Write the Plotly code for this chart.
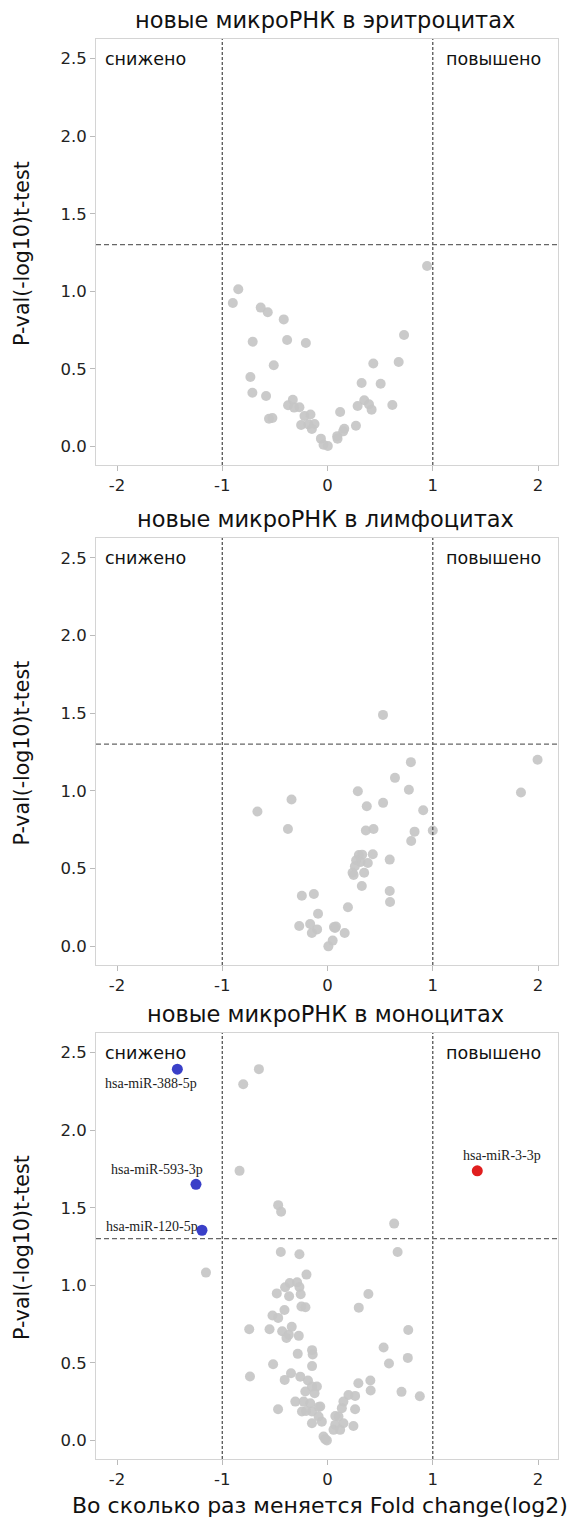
import plotly.graph_objects as go

# ---------------- data ----------------
ery_x = [-0.848, -0.90, -0.635, -0.568, -0.416, -0.711, -0.384, -0.206, -0.511, -0.733,
         -0.714, -0.584, -0.330, -0.375, -0.267, -0.317, -0.556, -0.524, -0.219, -0.162,
         -0.251, -0.181, -0.124, -0.149, -0.063, -0.038, 0.003, 0.12, 0.092, 0.946,
         0.727, 0.435, 0.676, 0.324, 0.505, 0.349, 0.394, 0.286, 0.419, 0.616,
         0.27, 0.159, 0.149, 0.095]
ery_y = [1.013, 0.925, 0.895, 0.865, 0.819, 0.675, 0.686, 0.667, 0.523, 0.447,
         0.346, 0.325, 0.301, 0.265, 0.252, 0.25, 0.178, 0.183, 0.196, 0.206,
         0.138, 0.142, 0.144, 0.112, 0.05, 0.011, 0.002, 0.222, 0.066, 1.163,
         0.718, 0.535, 0.544, 0.409, 0.404, 0.297, 0.271, 0.26, 0.237, 0.267,
         0.133, 0.114, 0.097, 0.05]

lym_x = [-0.342, -0.666, -0.376, -0.244, -0.13, -0.09, -0.269, -0.165, -0.099, -0.149,
         0.071, 0.049, 0.008, 0.527, 0.792, 1.996, 1.838, 0.641, 0.288, 0.773,
         0.373, 0.528, 0.909, 0.364, 0.437, 0.827, 1.0, 0.795, 0.298, 0.329,
         0.43, 0.272, 0.314, 0.383, 0.26, 0.591, 0.238, 0.248, 0.348, 0.326,
         0.591, 0.594, 0.194, 0.061, 0.08, 0.163]
lym_y = [0.945, 0.867, 0.755, 0.326, 0.337, 0.21, 0.131, 0.144, 0.109, 0.086,
         0.118, 0.037, 0.0, 1.489, 1.185, 1.2, 0.99, 1.084, 0.998, 1.007,
         0.901, 0.923, 0.876, 0.745, 0.755, 0.738, 0.745, 0.678, 0.588, 0.59,
         0.592, 0.554, 0.543, 0.536, 0.515, 0.558, 0.474, 0.459, 0.474, 0.388,
         0.356, 0.285, 0.251, 0.124, 0.127, 0.086]

mono_x = [-0.652, -0.801, -0.836, -0.469, -0.441, 0.633, -0.444, -0.267, 0.666, -1.155,
          -0.2, -0.359, -0.289, -0.403, -0.267, -0.482, -0.365, -0.255, 0.388, -0.248,
          -0.21, 0.297, -0.409, -0.523, -0.469, -0.744, -0.551, 0.767, -0.431, -0.34,
          -0.39, -0.368, -0.273, 0.533, -0.283, -0.147, -0.141, 0.763, 0.584, -0.517,
          -0.737, -0.147, -0.347, -0.407, -0.259, -0.186, -0.101, -0.123, -0.211, -0.148,
          0.293, 0.407, 0.41, 0.703, 0.877, -0.47, -0.306, -0.227, -0.164, -0.069,
          -0.243, -0.148, -0.085, -0.148, -0.054, 0.199, 0.262, 0.151, 0.262, 0.104,
          0.136, 0.151, 0.073, 0.057, 0.246, 0.12, -0.038, -0.006, -0.022, -0.084,
          -0.204, 0.074]
mono_y = [2.394, 2.297, 1.738, 1.517, 1.474, 1.398, 1.215, 1.2, 1.215, 1.082,
          1.069, 1.015, 1.019, 0.987, 0.989, 0.948, 0.929, 0.942, 0.944, 0.863,
          0.858, 0.856, 0.841, 0.805, 0.79, 0.717, 0.717, 0.712, 0.704, 0.732,
          0.661, 0.682, 0.674, 0.599, 0.558, 0.582, 0.554, 0.532, 0.496, 0.491,
          0.412, 0.479, 0.433, 0.39, 0.411, 0.386, 0.347, 0.304, 0.315, 0.347,
          0.368, 0.386, 0.322, 0.313, 0.285, 0.201, 0.25, 0.25, 0.24, 0.218,
          0.186, 0.186, 0.154, 0.111, 0.121, 0.293, 0.287, 0.25, 0.201, 0.154,
          0.208, 0.111, 0.1, 0.068, 0.093, 0.068, 0.025, 0.0, 0.008, 0.215,
          0.189, 0.157]

down_names = ["hsa-miR-388-5p", "hsa-miR-593-3p", "hsa-miR-120-5p"]
down_x = [-1.427, -1.25, -1.193]
down_y = [2.394, 1.651, 1.355]
down_label_x = [-1.68, -1.62, -1.67]
down_label_y = [2.30, 1.75, 1.38]

up_names = ["hsa-miR-3-3p"]
up_x = [1.423]
up_y = [1.738]
up_label_x = [1.66]
up_label_y = [1.835]

titles = ["новые микроРНК в эритроцитах", "новые микроРНК в лимфоцитах", "новые микроРНК в моноцитах"]
x_ticks = [-2, -1, 0, 1, 2]
y_ticks = [0.0, 0.5, 1.0, 1.5, 2.0, 2.5]
fc_cut = 1.0
p_cut = 1.301

# ---------------- figure ----------------
OFF = 8                      # default page body margin
W, H = 579 - OFF, 1529 - OFF
FONT = "DejaVu Sans"
GREY = "#c6c6c6"
panels = [(39, 465), (538, 965), (1033, 1459)]   # top/bottom page px of plot areas


def px_x(p):
    return (p - OFF) / W


def px_y(p):
    return 1 - (p - OFF) / H


xdom = [px_x(96), px_x(558)]

fig = go.Figure()
series = [(ery_x, ery_y), (lym_x, lym_y), (mono_x, mono_y)]
for i, (xs, ys) in enumerate(series):
    sfx = "" if i == 0 else str(i + 1)
    fig.add_trace(go.Scatter(x=xs, y=ys, mode="markers", xaxis="x" + sfx, yaxis="y" + sfx,
                             marker=dict(size=10, color=GREY, opacity=0.92, line=dict(width=0)),
                             showlegend=False, hoverinfo="x+y"))

fig.add_trace(go.Scatter(x=down_x, y=down_y, mode="markers", xaxis="x3", yaxis="y3",
                         marker=dict(size=11, color="#3a40c8"), showlegend=False,
                         text=down_names))
fig.add_trace(go.Scatter(x=up_x, y=up_y, mode="markers", xaxis="x3", yaxis="y3",
                         marker=dict(size=11, color="#e01e1e"), showlegend=False,
                         text=up_names))

layout = dict(width=W, height=H, margin=dict(l=0, r=0, t=0, b=0),
              paper_bgcolor="white", plot_bgcolor="white", showlegend=False,
              font=dict(family=FONT, color="#222"))
annotations = []
shapes = []
for i, (top, bot) in enumerate(panels):
    sfx = "" if i == 0 else str(i + 1)
    ydom = [px_y(bot), px_y(top)]
    axis_common = dict(showgrid=False, zeroline=False, showline=True, mirror=True,
                       linecolor="#d4d4d4", linewidth=1, ticks="outside", ticklen=5,
                       tickcolor="#bbb", tickfont=dict(size=16.5, family=FONT, color="#222"))
    layout["xaxis" + sfx] = dict(domain=xdom, anchor="y" + sfx, range=[-2.2, 2.19],
                                 tickvals=x_ticks, ticktext=[str(v) for v in x_ticks],
                                 **axis_common)
    layout["yaxis" + sfx] = dict(domain=ydom, anchor="x" + sfx, range=[-0.12, 2.627],
                                 tickvals=y_ticks, tickformat=".1f", **axis_common)
    # title
    annotations.append(dict(text=titles[i], xref="paper", yref="paper", x=px_x(325),
                            y=px_y(top - 19), xanchor="center", yanchor="middle",
                            showarrow=False, font=dict(size=22.5, family=FONT, color="#111")))
    # y axis title
    annotations.append(dict(text="P-val(-log10)t-test", xref="paper", yref="paper", x=px_x(22),
                            y=px_y((top + bot) / 2 + 2), xanchor="center", yanchor="middle",
                            textangle=-90, showarrow=False,
                            font=dict(size=20.5, family=FONT, color="#111")))
    # corner labels
    annotations.append(dict(text="снижено", xref="x" + sfx, yref="y" + sfx, x=-2.13, y=2.5,
                            xanchor="left", yanchor="middle", showarrow=False,
                            font=dict(size=17.5, family=FONT, color="#111")))
    annotations.append(dict(text="повышено", xref="x" + sfx, yref="y" + sfx, x=2.05, y=2.5,
                            xanchor="right", yanchor="middle", showarrow=False,
                            font=dict(size=17.5, family=FONT, color="#111")))
    # threshold lines
    for xv in (-fc_cut, fc_cut):
        shapes.append(dict(type="line", xref="x" + sfx, yref="y" + sfx + " domain",
                           x0=xv, x1=xv, y0=0, y1=1,
                           line=dict(color="#555", width=1.3, dash="3px,2px")))
    shapes.append(dict(type="line", xref="x" + sfx + " domain", yref="y" + sfx,
                       x0=0, x1=1, y0=p_cut, y1=p_cut,
                       line=dict(color="#666", width=1.2, dash="5px,3px")))

for n, lx, ly in zip(down_names + up_names, down_label_x + up_label_x, down_label_y + up_label_y):
    annotations.append(dict(text=n, xref="x3", yref="y3", x=lx, y=ly, xanchor="center",
                            yanchor="middle", showarrow=False,
                            font=dict(size=14, family="Liberation Serif", color="#222")))

annotations.append(dict(text="Во сколько раз меняется Fold change(log2)", xref="paper", yref="paper",
                        x=px_x(320), y=px_y(1505), xanchor="center", yanchor="middle",
                        showarrow=False, font=dict(size=22, family=FONT, color="#111")))

layout["annotations"] = annotations
layout["shapes"] = shapes
fig.update_layout(**layout)
fig.write_html("out.html")
